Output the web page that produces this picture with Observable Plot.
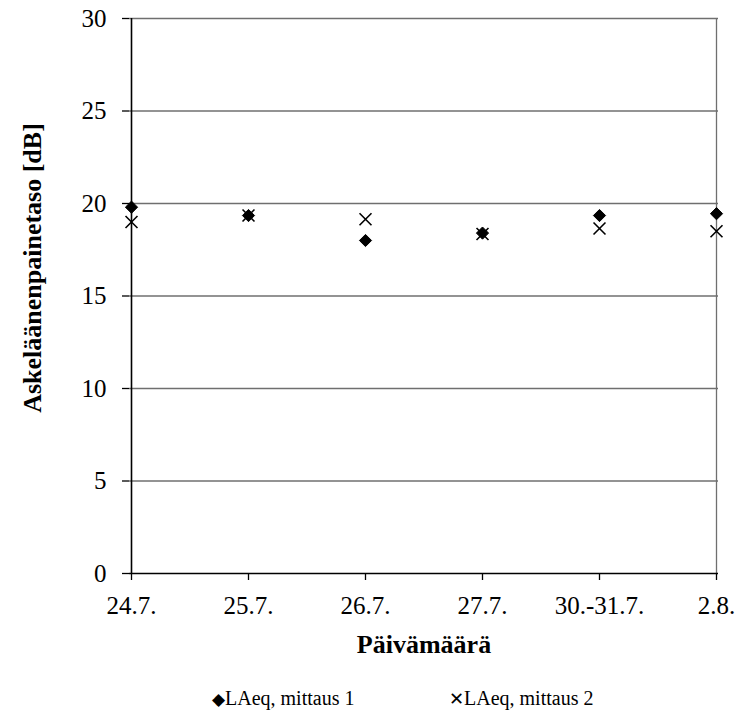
<!DOCTYPE html>
<html><head><meta charset="utf-8">
<script src="https://cdn.jsdelivr.net/npm/d3@7"></script>
<script src="https://cdn.jsdelivr.net/npm/@observablehq/plot@0.6"></script>
<style>
body{margin:0;background:#fff;font-family:"Liberation Serif",serif;}
#wrap{position:relative;width:739px;height:718px;}
.leg{position:absolute;top:686px;font-size:20px;line-height:24px;color:#000;white-space:nowrap;}
</style></head><body><div id="wrap"><div id="chart"></div>
<div class="leg" style="left:212px"><span style="font-size:17px">◆</span>LAeq, mittaus 1</div>
<div class="leg" style="left:449px"><span style="font-size:18px">✕</span>LAeq, mittaus 2</div>
</div>
<script>
const dates = ["24.7.","25.7.","26.7.","27.7.","30.-31.7.","2.8."];
const mittaus1 = [19.8,19.35,18.0,18.4,19.35,19.45];
const mittaus2 = [19.0,19.35,19.15,18.35,18.65,18.5];
const yTicks = [0,5,10,15,20,25,30];
const seriesNames = ["LAeq, mittaus 1","LAeq, mittaus 2"];

const d1 = dates.map((d,i)=>({date:d, value:mittaus1[i]}));
const d2 = dates.map((d,i)=>({date:d, value:mittaus2[i]}));

const chart = Plot.plot({
  width:739, height:660,
  marginTop:18, marginBottom:87, marginLeft:129, marginRight:21,
  style:{fontFamily:"Liberation Serif", fontSize:"25px", color:"#000", background:"#fff"},
  x:{type:"point", domain:dates, padding:0},
  y:{domain:[0,30]},
  marks:[
    Plot.ruleY(yTicks.filter(t=>t>0), {stroke:"#6f6f6f", strokeWidth:1.3}),
    Plot.ruleX([dates[dates.length-1]], {stroke:"#6f6f6f", strokeWidth:1.3}),
    Plot.axisY({ticks:yTicks, tickSize:7, tickPadding:16, label:null, strokeWidth:1.3, fontSize:25}),
    Plot.axisX({tickSize:7, tickPadding:16, label:null, strokeWidth:1.3, fontSize:25}),
    Plot.ruleY([0], {stroke:"#000", strokeWidth:1.6}),
    Plot.ruleX([dates[0]], {stroke:"#000", strokeWidth:1.6}),
    Plot.text(["Askeläänenpainetaso [dB]"], {text:d=>d, frameAnchor:"left", dx:-97, dy:-28, rotate:-90, textAnchor:"middle", lineAnchor:"middle", fontWeight:"bold", fontSize:26}),
    Plot.text(["Päivämäärä"], {text:d=>d, frameAnchor:"bottom", dy:71, textAnchor:"middle", lineAnchor:"middle", fontWeight:"bold", fontSize:26}),
    Plot.dot(d2, {x:"date", y:"value", symbol:"times", r:5.5, stroke:"#000", strokeWidth:1.6, fill:"none"}),
    Plot.dot(d1, {x:"date", y:"value", symbol:"diamond2", r:5.5, fill:"#000", stroke:"#000", strokeWidth:1})
  ]
});
document.getElementById("chart").appendChild(chart);
</script>
</body></html>
